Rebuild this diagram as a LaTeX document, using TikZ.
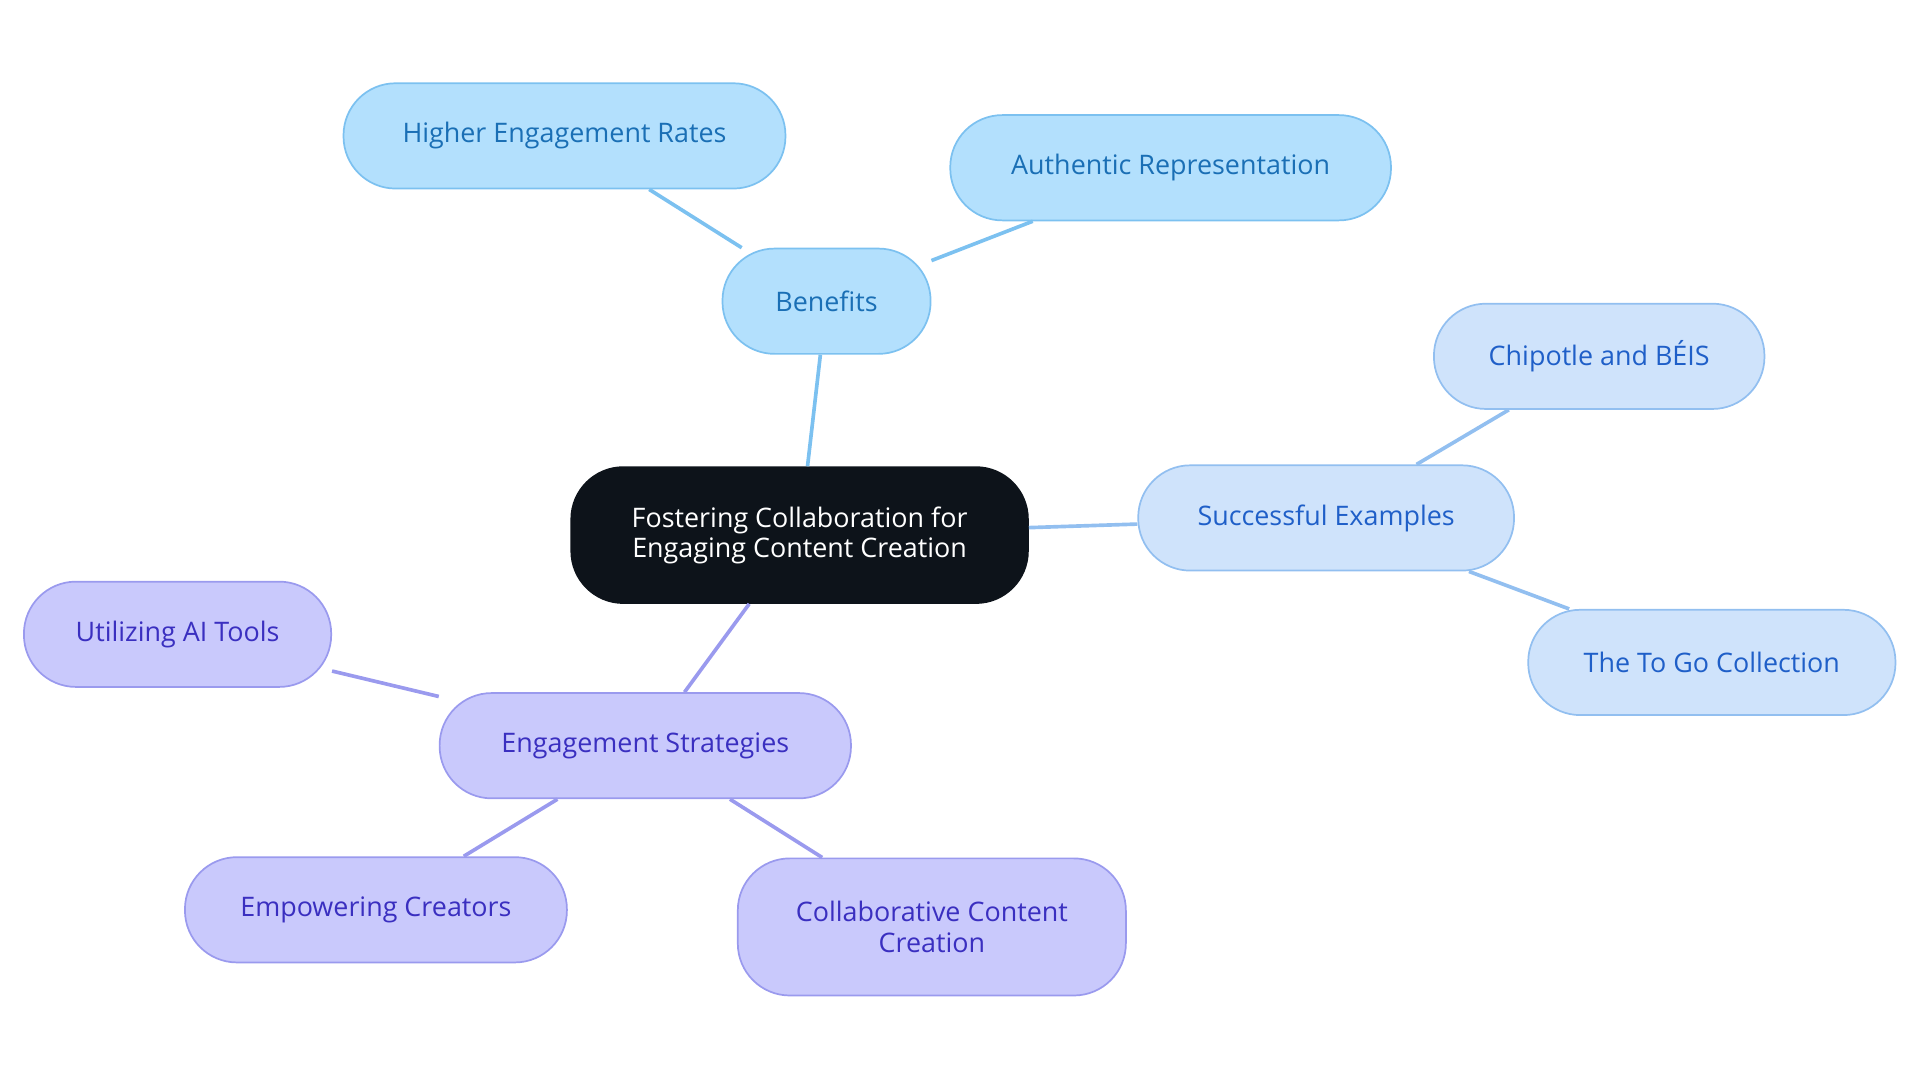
\documentclass[tikz,border=0pt]{standalone}
\usepackage{fontspec}
\setmainfont{Open Sans}
\definecolor{rootfill}{HTML}{0D131A}
\definecolor{bfill}{HTML}{B3E0FD}\definecolor{bline}{HTML}{7CC1F0}\definecolor{btext}{HTML}{1A6FB5}
\definecolor{sfill}{HTML}{CFE3FB}\definecolor{sline}{HTML}{92BFF0}\definecolor{stext}{HTML}{1F5FC8}
\definecolor{efill}{HTML}{C9C9FC}\definecolor{eline}{HTML}{9A9AEE}\definecolor{etext}{HTML}{3A2FC0}
\begin{document}
\begin{tikzpicture}[x=0.02cm,y=-0.02cm,
  box/.style={rectangle,rounded corners=0.85cm,minimum height=1.72cm,align=center,
    line width=0.8pt,font=\fontsize{12.5}{14}\selectfont,inner sep=0pt},
  ben/.style={box,fill=bfill,draw=bline,text=btext},
  suc/.style={box,fill=sfill,draw=sline,text=stext},
  eng/.style={box,fill=efill,draw=eline,text=etext},
  link/.style={line width=1.7pt}]
\useasboundingbox (0,0) rectangle (1568,884);
\node[box,fill=rootfill,draw=rootfill,text=white,minimum width=7.46cm,minimum height=2.22cm] (root) at (653,437) {Fostering Collaboration for\\Engaging Content Creation};
\node[ben,minimum width=3.4cm] (ben) at (675,246) {Benefits};
\node[ben,minimum width=7.22cm] (ber) at (461,111) {Higher Engagement Rates};
\node[ben,minimum width=7.2cm] (bea) at (956,137) {Authentic Representation};
\node[suc,minimum width=6.14cm] (suc) at (1083,423) {Successful Examples};
\node[suc,minimum width=5.4cm] (chi) at (1306,291) {Chipotle and BÉIS};
\node[suc,minimum width=6cm] (tog) at (1398,541) {The To Go Collection};
\node[eng,minimum width=6.72cm] (eng) at (527,609) {Engagement Strategies};
\node[eng,minimum width=5.02cm] (ai) at (145,518) {Utilizing AI Tools};
\node[eng,minimum width=6.24cm] (emp) at (307,743) {Empowering Creators};
\node[eng,minimum width=6.34cm,minimum height=2.24cm] (col) at (761,757) {Collaborative Content\\Creation};
\begin{scope}[on background layer/.style={}]
\end{scope}
\draw[link,bline] (root) -- (ben);
\draw[link,bline] (ben) -- (ber);
\draw[link,bline] (ben) -- (bea);
\draw[link,sline] (root) -- (suc);
\draw[link,sline] (suc) -- (chi);
\draw[link,sline] (suc) -- (tog);
\draw[link,eline] (root) -- (eng);
\draw[link,eline] (eng) -- (ai);
\draw[link,eline] (eng) -- (emp);
\draw[link,eline] (eng) -- (col);
\end{tikzpicture}
\end{document}
